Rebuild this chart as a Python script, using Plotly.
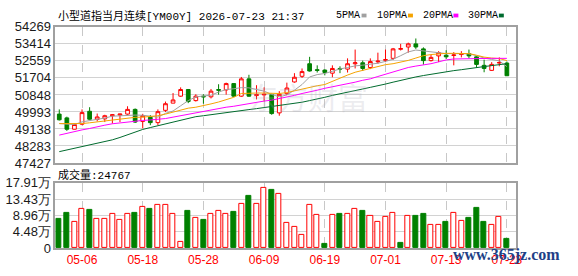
import plotly.graph_objects as go

# ---------------- data ----------------
dates = ["04-29","04-30","05-05","05-06","05-07","05-08","05-11","05-12","05-13","05-14",
         "05-15","05-18","05-19","05-20","05-21","05-22","05-25","05-26","05-27","05-28",
         "05-29","06-01","06-02","06-03","06-04","06-05","06-08","06-09","06-10","06-11",
         "06-12","06-15","06-16","06-17","06-18","06-19","06-22","06-23","06-24","06-25",
         "06-26","06-29","06-30","07-01","07-02","07-03","07-06","07-07","07-08","07-09",
         "07-10","07-13","07-14","07-15","07-16","07-17","07-20","07-21","07-22","07-23"]

opens = [49885,49695,49125,49377,50027,49614,49647,49804,49837,49885,
         50122,49519,49723,49457,50075,50436,50787,51120,50564,50787,
         50754,51120,51101,51419,50787,51656,50816,50849,50863,49947,
         50911,51500,51785,52416,52117,52098,51942,52179,52146,52416,
         52464,52226,52511,52592,52687,53143,53257,53414,53162,52573,
         52811,52844,52830,52877,52925,52763,52336,52084,52450,52450]
highs = [50122,49757,49410,50122,50231,49913,49852,49885,49899,50279,
         50170,49899,49837,50122,50516,50944,51229,51148,50882,50882,
         51148,51386,51466,51443,51751,51861,51338,51229,50911,51039,
         51466,51942,52179,52763,52336,52132,52336,52288,52687,53129,
         52573,52687,52972,53129,53210,53414,53476,53685,53238,52858,
         53048,53095,53001,53048,53129,52811,52621,52497,52735,52526]
lows = [49566,49044,49115,49329,49600,49519,49486,49410,49486,49852,
        49438,49172,49329,49329,49994,50436,50754,50436,50516,50407,
        50673,50863,50863,50754,50754,50754,50626,50516,49852,49804,
        50835,51466,51704,52022,51975,51832,51737,51942,51975,52179,
        52051,52146,52416,52497,52607,53081,52972,53162,52369,52526,
        52497,52654,52336,52735,52687,52212,51988,52051,52288,51813]
closes = [49600,49125,49362,49961,49628,49742,49804,49852,49885,50122,
          49486,49804,49457,50008,50407,50597,51120,50516,50787,50754,
          51039,51086,51419,50787,51656,50787,50863,50882,49913,50882,
          51196,51737,52022,52051,52084,51975,52179,52146,52416,52464,
          52179,52526,52545,52621,53162,53177,53414,53257,52573,52735,
          52972,52763,52858,52906,52811,52383,52179,52383,52478,51813]

ma5 = [49410,49400,49362,49495,49552,49600,49685,49780,49804,49828,
       49837,49828,49790,49733,49923,50042,50303,50564,50754,50778,
       50835,50992,51120,51158,51215,51205,51134,51039,50873,50754,
       50849,51087,51372,51752,51870,51927,52037,52155,52227,52307,
       52345,52383,52440,52535,52640,52820,53010,53105,53058,53010,
       52963,52925,52925,52925,52915,52820,52702,52630,52559,52274]
ma10 = [49410,49410,49410,49410,49448,49495,49567,49600,49638,49685,
        49723,49733,49757,49804,49885,49994,50113,50184,50232,50303,
        50398,50493,50612,50730,50920,50944,50944,50944,50944,50920,
        50968,51063,51158,51253,51310,51372,51538,51704,51847,51989,
        52084,52203,52298,52369,52417,52488,52583,52702,52820,52877,
        52915,52939,52939,52939,52925,52844,52749,52702,52678,52573]
ma20 = [48830,48925,48997,49092,49163,49258,49329,49400,49448,49495,
        49543,49567,49590,49614,49662,49733,49804,49875,49970,50008,
        50089,50160,50232,50279,50350,50398,50469,50540,50588,50659,
        50730,50825,50920,50992,51087,51182,51253,51324,51395,51490,
        51585,51657,51775,51894,52013,52108,52227,52298,52355,52417,
        52512,52607,52654,52668,52678,52687,52687,52687,52687,52687]
ma30 = [47999,48080,48156,48237,48317,48403,48484,48593,48712,48854,
        48997,49115,49210,49305,49400,49495,49590,49685,49757,49804,
        49861,49913,49970,50018,50065,50113,50160,50208,50265,50312,
        50360,50422,50483,50564,50635,50730,50825,50897,50977,51063,
        51148,51229,51300,51395,51490,51585,51680,51752,51823,51894,
        51965,52013,52070,52117,52179,52227,52274,52322,52369,52417]

volumes = [80500,96000,71900,108000,106000,79700,79700,92700,77100,92700,
           97900,114200,106400,118600,118600,92700,17400,103000,82300,77500,
           92700,101000,95300,98200,121200,142800,121200,165400,160600,149800,
           69300,59000,36000,119000,90000,13000,90000,93500,92700,108000,
           101000,87500,71900,84900,97900,14800,87500,87500,93500,64100,
           64100,72700,97900,74500,83100,111600,72700,64900,85700,24767]
# 1 = red (up) volume bar, 0 = green (down) volume bar
vol_up = [0,0,1,1,0,1,1,1,1,1, 0,1,0,1,1,1,1,0,1,0,
          1,1,1,0,1,0,1,1,0,1, 1,1,1,1,1,0,1,0,1,1,
          0,1,1,1,1,0,1,0,0,1, 1,0,1,1,0,0,0,1,1,0]

price_ticks = [47427, 48283, 49138, 49993, 50848, 51704, 52559, 53414, 54269]
vol_ticks = [0, 44800, 89600, 134300, 179100]
vol_tick_text = ["0", "4.48万", "8.96万", "13.43万", "17.91万"]
date_ticks = ["05-06", "05-18", "05-28", "06-09", "06-19", "07-01", "07-13", "07-23"]

title_text = "小型道指当月连续[YM00Y] 2026-07-23 21:37"
ma_names = ["5PMA", "10PMA", "20PMA", "30PMA"]
ma_colors = ["#a0a0a0", "#f5a300", "#ff00ff", "#006b2e"]

# ---------------- figure ----------------
W, H = 578, 276
L, R = 56, 522
P_TOP, P_BOT = 21, 165
V_TOP, V_BOT = 186, 255

def px(x):
    return x / W

def py(y):
    return 1 - y / H

RED = "#ff0000"
GREEN = "#008000"

fig = go.Figure()

fig.add_trace(go.Candlestick(
    x=dates, open=opens, high=highs, low=lows, close=closes,
    increasing=dict(line=dict(color=RED, width=1), fillcolor="#ffffff"),
    decreasing=dict(line=dict(color=GREEN, width=1), fillcolor=GREEN),
    whiskerwidth=0, hoverinfo="skip", xaxis="x", yaxis="y",
))

for vals, col in zip([ma5, ma10, ma20, ma30], ma_colors):
    fig.add_trace(go.Scatter(x=dates, y=vals, mode="lines",
                             line=dict(color=col, width=1),
                             hoverinfo="skip", xaxis="x", yaxis="y"))

up_x = [d for d, u in zip(dates, vol_up) if u]
up_v = [v for v, u in zip(volumes, vol_up) if u]
dn_x = [d for d, u in zip(dates, vol_up) if not u]
dn_v = [v for v, u in zip(volumes, vol_up) if not u]

fig.add_trace(go.Bar(x=up_x, y=up_v, width=0.66,
                     marker=dict(color="#ffffff", line=dict(color=RED, width=1)),
                     hoverinfo="skip", xaxis="x2", yaxis="y2"))
fig.add_trace(go.Bar(x=dn_x, y=dn_v, width=0.66,
                     marker=dict(color=GREEN, line=dict(color=GREEN, width=1)),
                     hoverinfo="skip", xaxis="x2", yaxis="y2"))

axis_font = dict(family="Liberation Sans, Arial, sans-serif", size=13, color="#1a1a1a")
common_x = dict(
    domain=[px(L), px(R)], type="category", categoryorder="array", categoryarray=dates,
    range=[-0.52, 60.16], tickvals=date_ticks, showgrid=True, gridcolor="#c8c8c8",
    griddash="dash", gridwidth=1, showline=True, mirror=True, linecolor="#a0a0a0",
    linewidth=1.5, ticks="", zeroline=False, fixedrange=True,
)

fig.update_layout(
    width=W, height=H, margin=dict(l=0, r=0, t=0, b=0),
    paper_bgcolor="white", plot_bgcolor="white", showlegend=False,
    bargap=0,
    xaxis=dict(common_x, anchor="y", showticklabels=False,
               rangeslider=dict(visible=False)),
    yaxis=dict(domain=[py(P_BOT), py(P_TOP)], range=[price_ticks[0], price_ticks[-1]],
               tickvals=price_ticks, ticktext=[str(t) for t in price_ticks],
               showgrid=True, gridcolor="#d2d2d2", gridwidth=1,
               showline=True, mirror=True, linecolor="#a0a0a0", linewidth=1.5,
               ticks="", zeroline=False, tickfont=axis_font, anchor="x"),
    xaxis2=dict(common_x, anchor="y2", showticklabels=True,
                tickfont=dict(family="Liberation Sans, Arial, sans-serif", size=12, color=RED)),
    yaxis2=dict(domain=[py(V_BOT), py(V_TOP)], range=[vol_ticks[0], vol_ticks[-1]],
                tickvals=vol_ticks, ticktext=vol_tick_text,
                showgrid=True, gridcolor="#d2d2d2", gridwidth=1,
                showline=True, mirror=True, linecolor="#a0a0a0", linewidth=1.5,
                ticks="", zeroline=False, tickfont=axis_font, anchor="x2"),
)

mono_cjk = "Liberation Mono, Noto Sans CJK SC, monospace"
annotations = [
    dict(text=title_text, x=px(57), y=py(9), xref="paper", yref="paper",
         xanchor="left", yanchor="middle", showarrow=False,
         font=dict(family=mono_cjk, size=11, color="#000000")),
    dict(text="成交量:" + str(volumes[-1]), x=px(57), y=py(178), xref="paper", yref="paper",
         xanchor="left", yanchor="middle", showarrow=False,
         font=dict(family=mono_cjk, size=11, color="#000000")),
    dict(text="东方财富", x=px(312), y=py(94), xref="paper", yref="paper",
         xanchor="center", yanchor="middle", showarrow=False,
         font=dict(family="Noto Sans CJK SC", size=30, color="rgba(170,170,185,0.22)")),
    dict(text="<b>www.365jz.com</b>", x=px(513), y=py(262), xref="paper", yref="paper",
         xanchor="center", yanchor="middle", showarrow=False,
         font=dict(family="Liberation Serif, serif", size=16, color="#223f86")),
]
shapes = []
legend_x = [338, 380, 426, 472]
swatch_x = [366, 413, 459, 505]
for name, col, lx, sx in zip(ma_names, ma_colors, legend_x, swatch_x):
    annotations.append(dict(text=name, x=px(lx), y=py(9), xref="paper", yref="paper",
                            xanchor="left", yanchor="middle", showarrow=False,
                            font=dict(family="Liberation Mono, monospace", size=10, color="#000000")))
    shapes.append(dict(type="rect", xref="paper", yref="paper",
                       x0=px(sx), x1=px(sx + 5), y0=py(11), y1=py(7),
                       fillcolor=col, line=dict(width=0)))

fig.update_layout(annotations=annotations, shapes=shapes)

fig.write_html("out.html")
